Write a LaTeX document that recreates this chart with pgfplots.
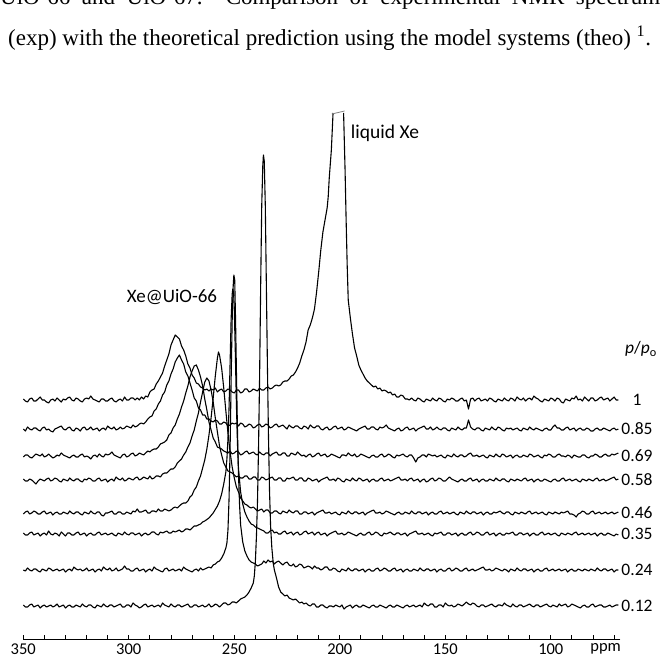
\documentclass[border=0pt]{standalone}
\usepackage{fontspec}
\setmainfont{Carlito}
\newfontfamily\capfont{Liberation Serif}
\usepackage{pgfplots}
\pgfplotsset{compat=1.18}

\begin{document}
\begin{tikzpicture}[x=1pt,y=1pt]
\begin{axis}[
  scale only axis, width=594.3pt, height=539pt,
  x dir=reverse, xmin=67, xmax=350, ymin=0, ymax=539,
  axis x line*=bottom, axis y line=none,
  axis line style={-, line width=0.9pt},
  xtick={100,150,200,250,300,350},
  xticklabels={100,150,200,250,300,350},
  minor xtick={70,80,90,110,120,130,140,160,170,180,190,210,220,230,240,260,270,280,290,310,320,330,340},
  extra x ticks={74}, extra x tick labels={ppm},
  extra x tick style={major tick length=0pt},
  tick align=inside, major tick length=4pt, minor tick length=4pt,
  tick style={black, line width=0.9pt},
  xticklabel style={font=\fontsize{16.5}{18}\selectfont, yshift=-1pt},
  clip=false,
  every axis plot/.append style={black, line width=1.1pt, line join=round},
]
% p/p0 = 1 (UiO-66 peak and rising side of liquid Xe)
\addplot[y filter/.expression={y+239}] coordinates {
(350,1)(349,-1)(348,-2)(347,1)(346,2)(345,-1)(344,-1)(343,1)(342,3)(341,0)(340,0)(339,-2)(338,-3)(337,0)(336,1)(335,-1)(334,2)(333,0)(332,-2)(331,1)(330,0)(329,2)(328,3)(327,0)(326,-1)(325,2)(324,1)(323,-1)(322,-2)(321,1)(320,2)(319,1)(318,4)(317,1)(316,0)(315,-1)(314,-2)(313,1)(312,1)(311,-1)(310,-1)(309,1)(308,2)(307,-1)(306,-2)(305,0)(304,1)(303,-1)(302,3)(301,0)(300,0)(299,2)(298,2)(297,0)
(296,2)(295,0)(294,3)(293,1)(292,4)(291,3)(290,8)(289,10)(288,11)(287,16)(286,19)(285,23)(284,27)(283,34)(282,40)(281,46)(280,55)(279,60)(278,65)(277,63)(276,61)(275,54)(274,50)(273,44)(272,36)(271,32)(270,25)(269,22)(268,17)(267,16)(266,13)(265,12)(264,10)(263,11)(262,9)
(261,11)(260,10)(259,12)(258,8)(257,10)(256,11)(255,8)(254,9)(253,11)(252,10)(251,8)(250,7)(249,10)(248,10)(247,7)(246,8)(245,11)(244,11)(243,8)(242,9)(241,11)(240,10)(239,9)(238,12)(237,10)
(236,10)(235,12)(234,13)(233,11)(232,12)(231,14)(230,15)(229,14)(228,15)(227,18)(226,19)(225,19)(224,21)(223,24)(222,25)(221,28)(220,32)(219,37)(218,44)(217,50)(216,58)(215,70)(214,75)(213,82)(212,91)(211,108)(210,128)(209,150)(208,168)(207,180)(206,192)(205.5,203)(205,222)(204,250)(203.2,287)
};
% p/p0 = 1 (falling side of liquid Xe and baseline)
\addplot[y filter/.expression={y+239}] coordinates {
(198.2,287)(197.5,230)(197,180)(196.5,135)(196,100)(195,82)(194,66)(193,52)(192,44)(191,35)(190,30)(189,26)(188,22)(187,19)(186,17)(185,15)(184,13)(183,14)(182,11)(181,12)(180,9)(179,10)(178,9)(177,7)(176,8)(175,5)(174,6)(173,3)(172,3)(171,5)(170,4)(169,1)(168,1)
(167,0)(166,2)(165,0)(164,-1)(163,2)(162,1)(161,-1)(160,-2)(159,1)(158,0)(157,-1)(156,2)(155,0)(154,-1)(153,2)(152,1)(151,-1)(150,-2)(149,1)(148,0)(147,2)(146,1)(145,-1)(144,-1)(143,1)(142,2)(141,-1)(140,0)(139,-9)(138,1)(137,2)(136,-1)(135,1)(134,2)(133,-1)(132,0)(131,1)(130,-1)(129,2)(128,1)(127,-1)(126,-2)(125,1)(124,0)(123,-1)(122,2)(121,0)(120,-1)(119,2)(118,1)(117,-1)(116,3)(115,1)(114,0)(113,2)(112,-1)(111,1)(110,2)(109,0)(108,4)(107,2)(106,1)(105,-1)(104,-2)(103,1)(102,0)(101,-1)(100,2)(99,1)(98,-1)(97,2)(96,1)(95,-2)(94,-3)(93,1)(92,0)(91,-1)(90,2)(89,1)(88,4)(87,0)(86,1)(85,-1)(84,3)(83,1)(82,-1)(81,2)(80,2)(79,-1)(78,0)(77,2)(76,3)(75,0)(74,1)(73,2)(72,-1)(71,1)(70,3)(69,0)(68,0)
};
% clipped top of the liquid Xe line
\addplot[gray, line width=0.8pt] coordinates {(203.8,525)(197.7,528)};
% p/p0 = 0.85
\addplot[y filter/.expression={y+210}] coordinates {
(350,0)(349,-2)(348,2)(347,0)(346,-1)(345,1)(344,1)(343,-1)(342,-2)(341,1)(340,2)(339,-1)(338,0)(337,-2)(336,-3)(335,0)(334,1)(333,2)(332,3)(331,0)(330,-1)(329,1)(328,2)(327,-1)(326,-2)(325,1)(324,0)(323,-2)(322,1)(321,2)(320,-1)(319,0)(318,2)(317,-1)(316,0)(315,1)(314,-2)(313,0)(312,1)(311,-1)(310,3)(309,1)(308,0)(307,2)(306,-1)(305,0)(304,2)(303,0)(302,1)(301,3)
(300,2)(299,1)(298,4)(297,2)(296,3)(295,5)(294,6)(293,5)(292,7)(291,10)(290,12)(289,13)(288,18)(287,20)(286,25)(285,28)(284,34)(283,37)(282,44)(281,48)(280,55)(279,60)(278,67)(277,71)(276,74)(275,69)(274,65)(273,57)(272,53)(271,46)(270,39)(269,31)(268,28)(267,21)(266,19)(265,14)(264,14)(263,10)(262,10)(261,8)(260,7)(259,9)(258,8)(257,5)(256,5)(255,7)(254,6)(253,3)(252,4)(251,6)(250,5)
(249,6)(248,3)(247,6)(246,5)(245,2)(244,3)(243,5)(242,4)(241,1)(240,2)(239,4)(238,5)(237,2)(236,3)(235,5)(234,4)(233,1)(232,2)(231,4)(230,5)(229,2)(228,3)(227,4)(226,2)(225,0)(224,4)(223,2)(222,1)(221,3)(220,3)(219,1)(218,0)(217,3)(216,2)(215,0)(214,4)(213,2)(212,1)(211,3)(210,3)(209,0)(208,-1)(207,1)(206,2)(205,-1)(204,0)(203,2)(202,3)(201,0)(200,1)(199,2)(198,-1)(197,0)(196,2)(195,1)(194,0)(193,-1)(192,-2)(191,0)(190,1)(189,2)(188,3)(187,0)(186,0)(185,2)(184,2)(183,0)(182,-1)(181,2)(180,1)(179,2)(178,4)(177,1)(176,0)(175,-1)(174,-2)(173,0)(172,1)(171,-2)(170,-1)(169,1)(168,2)(167,-1)(166,0)(165,1)(164,-2)(163,0)(162,1)(161,2)(160,3)(159,0)(158,0)(157,2)(156,-1)(155,0)(154,2)(153,0)(152,-1)(151,1)(150,1)(149,-1)(148,-2)(147,1)(146,0)(145,-1)(144,2)(143,0)(142,-1)(141,1)(140,1)(139,9)(138,2)(137,0)(136,-1)(135,1)(134,1)(133,-1)(132,-2)(131,1)(130,0)(129,-1)(128,2)(127,0)(126,-1)(125,2)(124,1)(123,-1)(122,-2)(121,1)(120,0)(119,1)(118,-1)(117,0)(116,1)(115,-1)(114,-2)(113,1)(112,0)(111,-1)(110,2)(109,0)(108,-1)(107,1)(106,0)(105,-1)(104,-2)(103,0)(102,1)(101,-1)(100,-1)(99,2)(98,4)(97,1)(96,1)(95,-1)(94,-1)(93,1)(92,2)(91,-1)(90,0)(89,1)(88,-2)(87,0)(86,1)(85,-1)(84,-1)(83,1)(82,0)(81,-2)(80,-2)(79,0)(78,1)(77,-1)(76,-1)(75,1)(74,0)(73,-1)(72,-2)(71,0)(70,1)(69,-1)(68,0)
};
% p/p0 = 0.69
\addplot[y filter/.expression={y+183}] coordinates {
(350,-1)(349,1)(348,1)(347,-1)(346,-2)(345,0)(344,2)(343,1)(342,0)(341,2)(340,-1)(339,0)(338,2)(337,0)(336,-2)(335,-1)(334,1)(333,0)(332,3)(331,1)(330,0)(329,-1)(328,-2)(327,0)(326,1)(325,-1)(324,-1)(323,1)(322,2)(321,-1)(320,0)(319,-1)(318,-3)(317,0)(316,1)(315,-1)(314,2)(313,0)(312,-1)(311,2)(310,1)(309,2)(308,4)(307,1)(306,0)(305,-1)(304,-2)(303,1)(302,2)(301,-1)(300,0)(299,2)(298,3)(297,0)(296,1)(295,3)(294,2)(293,1)
(292,3)(291,5)(290,4)(289,6)(288,7)(287,7)(286,9)(285,12)(284,13)(283,14)(282,16)(281,21)(280,23)(279,28)(278,31)(277,37)(276,42)(275,49)(274,55)(273,63)(272,70)(271,79)(270,85)(269,90)(268,91)(267,86)(266,79)(265,70)(264,57)(263,46)(262,34)(261,26)(260,18)(259,14)(258,9)(257,8)(256,7)(255,5)(254,4)
(253,3)(252,5)(251,2)(250,3)(249,5)(248,4)(247,1)(246,2)(245,4)(244,5)(243,2)(242,3)(241,4)(240,2)(239,1)(238,4)(237,2)(236,1)(235,3)(234,3)(233,0)(232,2)(231,3)(230,4)(229,1)(228,1)(227,3)(226,3)(225,0)(224,0)(223,3)(222,2)(221,1)(220,4)(219,2)(218,0)(217,1)(216,-1)(215,1)(214,2)(213,-1)(212,0)(211,2)(210,3)(209,0)(208,1)(207,2)(206,-1)(205,0)(204,2)(203,1)(202,0)(201,-1)(200,-2)(199,1)(198,1)(197,0)(196,3)(195,1)(194,0)(193,2)(192,-1)(191,0)(190,2)(189,1)(188,0)(187,-1)(186,-2)(185,0)(184,1)(183,-1)(182,-1)(181,1)(180,2)(179,-1)(178,0)(177,2)(176,1)(175,-1)(174,-2)(173,1)(172,0)(171,1)(170,2)(169,0)(168,-1)(167,1)(166,1)(165,-2)(164,-6)(163,-2)(162,-1)(161,1)(160,1)(159,-1)(158,2)(157,1)(156,0)(155,1)(154,-1)(153,0)(152,1)(151,-1)(150,-2)(149,1)(148,0)(147,-1)(146,2)(145,0)(144,-1)(143,1)(142,1)(141,-1)(140,0)(139,2)(138,3)(137,0)(136,0)(135,1)(134,-1)(133,0)(132,1)(131,-1)(130,-2)(129,1)(128,0)(127,-1)(126,2)(125,0)(124,-1)(123,2)(122,1)(121,-1)(120,0)(119,1)(118,-2)(117,0)(116,1)(115,-1)(114,-1)(113,1)(112,0)(111,-1)(110,2)(109,1)(108,-1)(107,0)(106,1)(105,-1)(104,-2)(103,1)(102,0)(101,2)(100,1)(99,-1)(98,-1)(97,1)(96,2)(95,0)(94,0)(93,-1)(92,1)(91,0)(90,-2)(89,1)(88,0)(87,-1)(86,-1)(85,1)(84,1)(83,-1)(82,-2)(81,0)(80,0)(79,2)(78,1)(77,-1)(76,-1)(75,1)(74,2)(73,0)(72,0)(71,2)(70,1)(69,2)(68,3)
};
% p/p0 = 0.58
\addplot[y filter/.expression={y+159}] coordinates {
(350,1)(349,-1)(348,-1)(347,1)(346,0)(345,-2)(344,-4)(343,-1)(342,1)(341,0)(340,-1)(339,1)(338,2)(337,-1)(336,0)(335,2)(334,1)(333,-1)(332,-2)(331,1)(330,0)(329,-1)(328,2)(327,0)(326,-1)(325,1)(324,1)(323,-1)(322,-2)(321,1)(320,0)(319,2)(318,1)(317,-1)(316,-1)(315,1)(314,2)(313,-1)(312,0)(311,1)(310,-2)(309,0)(308,1)(307,-1)(306,3)(305,1)(304,0)(303,2)(302,-1)(301,0)(300,2)(299,1)(298,0)(297,2)(296,3)(295,0)(294,1)(293,3)(292,2)(291,1)(290,4)(289,1)(288,2)(287,4)
(286,4)(285,3)(284,6)(283,7)(282,7)(281,9)(280,11)(279,11)(278,13)(277,17)(276,19)(275,21)(274,25)(273,28)(272,33)(271,37)(270,44)(269,50)(268,59)(267,67)(266,78)(265,88)(264,98)(263,102)(262,99)(261,90)(260,78)(259,62)(258,48)(257,34)(256,25)(255,17)(254,13)(253,9)(252,8)(251,7)(250,5)(249,3)(248,4)
(247,2)(246,2)(245,4)(244,4)(243,1)(242,1)(241,3)(240,3)(239,0)(238,0)(237,3)(236,2)(235,0)(234,1)(233,2)(232,3)(231,0)(230,0)(229,2)(228,2)(227,-1)(226,-1)(225,2)(224,1)(223,2)(222,3)(221,0)(220,0)(219,2)(218,2)(217,-1)(216,-1)(215,2)(214,1)(213,-1)(212,0)(211,1)(210,-2)(209,0)(208,1)(207,2)(206,3)(205,0)(204,0)(203,1)(202,-1)(201,2)(200,1)(199,-1)(198,-2)(197,1)(196,0)(195,-1)(194,2)(193,0)(192,-1)(191,2)(190,1)(189,-1)(188,0)(187,1)(186,-2)(185,0)(184,1)(183,-1)(182,-1)(181,1)(180,2)(179,-1)(178,0)(177,1)(176,-1)(175,0)(174,1)(173,2)(172,3)(171,0)(170,0)(169,1)(168,-1)(167,1)(166,2)(165,-1)(164,0)(163,1)(162,-2)(161,0)(160,1)(159,-2)(158,-1)(157,1)(156,2)(155,-1)(154,0)(153,2)(152,1)(151,-1)(150,-1)(149,1)(148,3)(147,1)(146,0)(145,-1)(144,-2)(143,0)(142,1)(141,-1)(140,-1)(139,1)(138,2)(137,-1)(136,0)(135,1)(134,-2)(133,0)(132,1)(131,-1)(130,-1)(129,1)(128,0)(127,-1)(126,2)(125,0)(124,-1)(123,1)(122,1)(121,-1)(120,-2)(119,1)(118,0)(117,-1)(116,1)(115,0)(114,-1)(113,1)(112,2)(111,-1)(110,0)(109,1)(108,-2)(107,0)(106,1)(105,-1)(104,-1)(103,1)(102,0)(101,-1)(100,-2)(99,0)(98,1)(97,-1)(96,-1)(95,1)(94,2)(93,-1)(92,0)(91,1)(90,-1)(89,0)(88,1)(87,-1)(86,-2)(85,1)(84,0)(83,-1)(82,1)(81,0)(80,-1)(79,1)(78,2)(77,-1)(76,0)(75,1)(74,-1)(73,0)(72,1)(71,2)(70,3)(69,0)(68,1)
};
% p/p0 = 0.46
\addplot[y filter/.expression={y+126}] coordinates {
(350,-1)(349,1)(348,2)(347,-1)(346,0)(345,2)(344,1)(343,-1)(342,-1)(341,1)(340,2)(339,-1)(338,0)(337,1)(336,-2)(335,0)(334,1)(333,-1)(332,-1)(331,1)(330,0)(329,-1)(328,2)(327,0)(326,-1)(325,1)(324,1)(323,-1)(322,-2)(321,1)(320,0)(319,-1)(318,2)(317,0)(316,-1)(315,1)(314,1)(313,-2)(312,-3)(311,0)(310,0)(309,1)(308,2)(307,-1)(306,-1)(305,1)(304,1)(303,-1)(302,-1)(301,1)(300,0)(299,-1)(298,2)(297,1)(296,4)(295,1)(294,1)(293,2)(292,3)(291,0)(290,0)(289,2)(288,2)(287,1)(286,4)(285,2)(284,2)(283,4)(282,3)(281,2)
(280,3)(279,5)(278,6)(277,5)(276,7)(275,9)(274,10)(273,10)(272,12)(271,16)(270,18)(269,23)(268,26)(267,32)(266,37)(265,45)(264,53)(263,64)(262,78)(261,95)(260,115)(259,137)(258,155)(257.5,161)(257,158)(256,145)(255,125)(254,102)(253,80)(252,61)(251,46)(250,35)(249,26)(248,21)(247,15)(246,12)(245,9)(244,8)(243,6)(242,5)(241,6)(240,4)(239,2)(238,3)
(237,4)(236,1)(235,3)(234,3)(233,0)(232,0)(231,2)(230,2)(229,0)(228,-1)(227,2)(226,1)(225,0)(224,3)(223,1)(222,0)(221,2)(220,2)(219,-1)(218,-1)(217,1)(216,1)(215,-1)(214,0)(213,1)(212,-2)(211,0)(210,1)(209,2)(208,3)(207,0)(206,0)(205,1)(204,-1)(203,0)(202,1)(201,-1)(200,-2)(199,1)(198,0)(197,-1)(196,2)(195,0)(194,-1)(193,1)(192,1)(191,-1)(190,0)(189,1)(188,-2)(187,0)(186,1)(185,2)(184,3)(183,0)(182,0)(181,1)(180,-1)(179,0)(178,2)(177,1)(176,0)(175,-1)(174,-2)(173,0)(172,1)(171,-1)(170,-1)(169,1)(168,0)(167,-1)(166,2)(165,0)(164,-1)(163,1)(162,1)(161,-1)(160,0)(159,1)(158,-2)(157,0)(156,1)(155,-1)(154,-1)(153,1)(152,2)(151,-1)(150,0)(149,1)(148,-1)(147,0)(146,1)(145,-1)(144,-2)(143,1)(142,0)(141,-1)(140,2)(139,0)(138,-1)(137,1)(136,1)(135,-1)(134,0)(133,1)(132,-2)(131,0)(130,1)(129,-1)(128,-1)(127,1)(126,0)(125,1)(124,2)(123,0)(122,-1)(121,1)(120,1)(119,-1)(118,-2)(117,1)(116,0)(115,-1)(114,1)(113,0)(112,-1)(111,1)(110,2)(109,-1)(108,0)(107,1)(106,-1)(105,0)(104,1)(103,-1)(102,-2)(101,1)(100,0)(99,-1)(98,1)(97,0)(96,-1)(95,1)(94,0)(93,1)(92,2)(91,-1)(90,-1)(89,-2)(88,-4)(87,-1)(86,0)(85,2)(84,1)(83,-1)(82,-1)(81,1)(80,2)(79,-1)(78,0)(77,1)(76,-1)(75,0)(74,1)(73,-1)(72,0)(71,1)(70,-1)(69,0)(68,1)
};
% p/p0 = 0.35
\addplot[y filter/.expression={y+105}] coordinates {
(350,1)(349,-1)(348,-1)(347,1)(346,2)(345,-1)(344,0)(343,1)(342,-2)(341,0)(340,1)(339,-1)(338,3)(337,0)(336,-1)(335,1)(334,0)(333,-2)(332,2)(331,0)(330,-2)(329,1)(328,1)(327,-1)(326,-1)(325,1)(324,2)(323,-1)(322,0)(321,1)(320,-2)(319,0)(318,1)(317,-1)(316,-1)(315,1)(314,2)(313,-1)(312,0)(311,1)(310,-1)(309,0)(308,1)(307,-1)(306,-2)(305,1)(304,0)(303,-1)(302,2)(301,0)(300,-1)(299,1)(298,1)(297,-1)(296,0)(295,1)(294,-2)(293,0)(292,1)(291,-1)(290,0)(289,2)(288,2)(287,0)(286,-1)(285,2)(284,1)(283,2)(282,3)(281,1)(280,1)(279,3)(278,2)(277,3)(276,4)(275,2)(274,3)(273,5)(272,5)(271,4)(270,6)(269,8)(268,8)(267,9)(266,10)(265,12)(264,13)
(262,16)(260,21)(258,28)(257,33)(256,40)(255,50)(254,62)(253.5,75)(253,95)(252.5,125)(252,170)(251.5,215)(251,240)(250.7,245)(250.3,240)(250,225)(249.5,180)(249,130)(248.5,90)(248,65)(247,42)(246,30)(245,22)(244,17)(243,13)(242,10)(241,9)(240,7)(239,6)(238,5)
(237,4)(236,3)(235,1)(234,1)(233,3)(232,4)(231,1)(230,2)(229,0)(228,0)(227,2)(226,3)(225,0)(224,1)(223,2)(222,-1)(221,1)(220,2)(219,-1)(218,0)(217,2)(216,3)(215,0)(214,1)(213,2)(212,-1)(211,1)(210,2)(209,-1)(208,0)(207,1)(206,-2)(205,0)(204,1)(203,2)(202,3)(201,0)(200,0)(199,1)(198,-1)(197,0)(196,2)(195,1)(194,0)(193,-1)(192,-2)(191,0)(190,1)(189,-1)(188,-1)(187,1)(186,2)(185,-1)(184,0)(183,2)(182,1)(181,-1)(180,-2)(179,1)(178,0)(177,1)(176,2)(175,0)(174,-1)(173,1)(172,1)(171,-1)(170,0)(169,1)(168,-2)(167,0)(166,1)(165,2)(164,3)(163,0)(162,0)(161,1)(160,-1)(159,0)(158,1)(157,-1)(156,-2)(155,1)(154,0)(153,1)(152,2)(151,-1)(150,-1)(149,1)(148,1)(147,-1)(146,0)(145,1)(144,-2)(143,0)(142,1)(141,-1)(140,-1)(139,1)(138,2)(137,-1)(136,0)(135,2)(134,1)(133,-1)(132,-1)(131,1)(130,2)(129,-1)(128,0)(127,1)(126,-2)(125,0)(124,1)(123,-1)(122,-1)(121,1)(120,0)(119,1)(118,2)(117,-1)(116,-1)(115,1)(114,1)(113,-1)(112,0)(111,1)(110,-2)(109,0)(108,1)(107,-1)(106,-1)(105,1)(104,2)(103,-1)(102,0)(101,1)(100,-1)(99,0)(98,1)(97,-1)(96,-2)(95,1)(94,0)(93,-1)(92,1)(91,0)(90,-1)(89,1)(88,2)(87,-1)(86,0)(85,1)(84,-1)(83,0)(82,1)(81,-1)(80,0)(79,1)(78,-2)(77,0)(76,1)(75,-1)(74,-1)(73,1)(72,0)(71,-1)(70,-2)(69,0)(68,-1)
};
% p/p0 = 0.24
\addplot[y filter/.expression={y+69}] coordinates {
(350,0)(349,-1)(348,2)(347,0)(346,-1)(345,1)(344,1)(343,-1)(342,-2)(341,1)(340,0)(339,-1)(338,2)(337,1)(336,-1)(335,0)(334,1)(333,-1)(332,0)(331,1)(330,-2)(329,0)(328,1)(327,-1)(326,3)(325,1)(324,0)(323,1)(322,-1)(321,0)(320,2)(319,-1)(318,0)(317,1)(316,-2)(315,0)(314,1)(313,-1)(312,3)(311,1)(310,0)(309,2)(308,-1)(307,0)(306,2)(305,-1)(304,0)(303,1)(302,4)(301,1)(300,1)(299,-1)(298,-1)(297,1)(296,2)(295,-1)(294,0)(293,1)(292,-2)(291,0)(290,1)(289,-1)(288,3)(287,1)(286,0)(285,-1)(284,-2)(283,1)(282,2)(281,-1)(280,0)(279,1)(278,-1)(277,0)(276,1)(275,-1)(274,3)(273,1)(272,0)(271,-1)(270,-2)(269,0)(268,1)(267,-1)(266,2)(265,0)(264,1)(263,2)
(262,3)(261,2)(260,5)(259,6)(258,8)(257,9)(256,12)(255,16)(254,22)(253.5,27)(253,40)(252.5,70)(252,120)(251.5,190)(251,250)(250.5,285)(250.2,295)(249.8,290)(249.4,250)(249,200)(248.5,140)(248,95)(247.5,65)(247,45)(246,28)(245,19)(244,14)(243,10)(242,8)(241,7)(240,6)(239,4)(238,5)
(237,6)(236,9)(235,7)(234,10)(233,8)(232,9)(231,6)(230,8)(229,9)(228,7)(227,5)(226,7)(225,8)(224,5)(223,4)(222,6)(221,3)(220,4)(219,6)(218,5)(217,2)(216,3)(215,4)(214,3)(213,1)(212,4)(211,2)(210,2)(209,0)(208,1)(207,3)(206,3)(205,0)(204,0)(203,2)(202,1)(201,-1)(200,-2)(199,1)(198,0)(197,-1)(196,2)(195,0)(194,-1)(193,1)(192,1)(191,-1)(190,0)(189,1)(188,-2)(187,0)(186,1)(185,-1)(184,-1)(183,1)(182,2)(181,-1)(180,0)(179,2)(178,1)(177,-1)(176,-1)(175,1)(174,2)(173,-1)(172,0)(171,1)(170,-2)(169,0)(168,1)(167,-1)(166,-1)(165,1)(164,0)(163,-1)(162,2)(161,0)(160,-1)(159,1)(158,1)(157,-1)(156,0)(155,1)(154,-2)(153,0)(152,1)(151,-1)(150,-1)(149,1)(148,2)(147,-1)(146,0)(145,2)(144,1)(143,-1)(142,-1)(141,1)(140,2)(139,-1)(138,0)(137,1)(136,-1)(135,0)(134,1)(133,2)(132,3)(131,0)(130,0)(129,1)(128,-1)(127,0)(126,2)(125,1)(124,0)(123,-1)(122,1)(121,0)(120,-2)(119,1)(118,0)(117,-1)(116,2)(115,0)(114,-1)(113,1)(112,1)(111,-1)(110,0)(109,1)(108,-2)(107,0)(106,1)(105,-1)(104,-1)(103,1)(102,2)(101,-1)(100,0)(99,1)(98,-1)(97,0)(96,1)(95,-1)(94,0)(93,1)(92,-2)(91,0)(90,1)(89,-1)(88,-1)(87,1)(86,0)(85,-1)(84,1)(83,0)(82,-1)(81,1)(80,0)(79,-1)(78,2)(77,0)(76,-1)(75,1)(74,1)(73,-1)(72,0)(71,1)(70,-2)(69,0)(68,0)
};
% p/p0 = 0.12
\addplot[y filter/.expression={y+33}] coordinates {
(350,1)(349,-1)(348,-1)(347,1)(346,2)(345,-1)(344,0)(343,1)(342,-2)(341,0)(340,1)(339,-1)(338,0)(337,1)(336,-1)(335,0)(334,2)(333,-1)(332,0)(331,1)(330,-2)(329,0)(328,1)(327,-1)(326,-1)(325,1)(324,0)(323,-1)(322,2)(321,0)(320,-1)(319,1)(318,1)(317,-1)(316,-2)(315,1)(314,0)(313,-1)(312,2)(311,0)(310,-1)(309,1)(308,1)(307,-1)(306,0)(305,1)(304,2)(303,-1)(302,-1)(301,1)(300,1)(299,-1)(298,3)(297,1)(296,0)(295,-2)(294,-1)(293,1)(292,2)(291,-1)(290,0)(289,1)(288,-1)(287,0)(286,1)(285,-1)(284,3)(283,1)(282,0)(281,-1)(280,2)(279,0)(278,-1)(277,1)(276,1)(275,-1)(274,0)(273,1)(272,2)(271,-1)(270,-1)(269,1)(268,1)(267,-1)(266,0)(265,1)(264,-1)(263,0)(262,2)(261,-1)(260,0)(259,2)(258,1)(257,-1)
(256,1)(255,3)(254,3)(253,1)(252,2)(251,4)(250,4)(249,3)(248,5)(247,7)(246,8)(245,9)(244,11)(243,14)(242,18)(241,23)(240.5,30)(240,45)(239.5,70)(239,105)(238.5,160)(238,230)(237.5,320)(237,400)(236.5,440)(236.2,451)(235.8,445)(235.3,400)(234.8,320)(234.3,240)(233.8,170)(233.3,115)(232.8,80)(232.2,58)(231.5,42)(231,36)(230,28)(229,19)(228,14)(227,12)(226,10)(225,11)(224,8)(223,7)(222,6)(221,7)(220,5)(219,3)(218,4)(217,2)(216,3)
(215,1)(214,0)(213,2)(212,2)(211,-1)(210,-1)(209,1)(208,1)(207,-1)(206,-2)(205,0)(204,0)(203,-1)(202,1)(201,0)(200,-1)(199,1)(198,-3)(197,-1)(196,0)(195,1)(194,-2)(193,0)(192,1)(191,-1)(190,-1)(189,1)(188,0)(187,-1)(186,-2)(185,0)(184,1)(183,-1)(182,-1)(181,1)(180,0)(179,-1)(178,-2)(177,0)(176,1)(175,-1)(174,-1)(173,1)(172,0)(171,-1)(170,-2)(169,0)(168,1)(167,-1)(166,0)(165,1)(164,-1)(163,0)(162,1)(161,-1)(160,3)(159,1)(158,0)(157,2)(156,2)(155,-1)(154,-1)(153,1)(152,1)(151,-1)(150,3)(149,1)(148,0)(147,1)(146,-1)(145,0)(144,2)(143,1)(142,0)(141,2)(140,4)(139,2)(138,1)(137,3)(136,2)(135,0)(134,-1)(133,1)(132,1)(131,-1)(130,0)(129,1)(128,2)(127,0)(126,-1)(125,1)(124,1)(123,0)(122,3)(121,1)(120,0)(119,-1)(118,2)(117,0)(116,-1)(115,1)(114,1)(113,-1)(112,0)(111,1)(110,2)(109,0)(108,-1)(107,1)(106,1)(105,-1)(104,0)(103,1)(102,2)(101,0)(100,-1)(99,1)(98,0)(97,-1)(96,2)(95,0)(94,1)(93,2)(92,-1)(91,0)(90,2)(89,1)(88,0)(87,-1)(86,-2)(85,0)(84,1)(83,-1)(82,-1)(81,1)(80,2)(79,-1)(78,0)(77,1)(76,1)(75,-1)(74,-1)(73,0)(72,1)(71,-1)(70,0)(69,1)(68,1)
};
\coordinate (O) at (axis cs:350,0);
\end{axis}

\pgfresetboundingbox
\begin{scope}[shift={(O)}, xshift=-23.3pt, yshift=-20pt]
\useasboundingbox (0,0) rectangle (661,659);
% caption fragment at the top of the page
\node[anchor=base west, inner sep=0, font=\capfont\fontsize{23}{27}\selectfont] at (0,654)
  {\makebox[660pt][s]{UiO-66 and UiO-67.\ \ Comparison of experimental NMR spectrum}};
\node[anchor=base west, inner sep=0, font=\capfont\fontsize{23}{27}\selectfont] at (8,613)
  {(exp) with the theoretical prediction using the model systems (theo)\ \textsuperscript{1}.};
% annotations
\begin{scope}[every node/.style={font=\fontsize{17.5}{20}\selectfont, inner sep=0}]
\node[font=\fontsize{19}{22}\selectfont] at (172,362) {Xe@UiO-66};
\node[font=\fontsize{19.5}{22}\selectfont] at (385,526) {liquid Xe};
\node at (641,310) {\textit{p}/\textit{p}\textsubscript{o}};
\node at (637,259) {1};
\node at (637,230) {0.85};
\node at (637,203) {0.69};
\node at (637,179) {0.58};
\node at (637,146) {0.46};
\node at (637,125) {0.35};
\node at (637,89) {0.24};
\node at (637,53) {0.12};
\end{scope}
\end{scope}
\end{tikzpicture}
\end{document}
